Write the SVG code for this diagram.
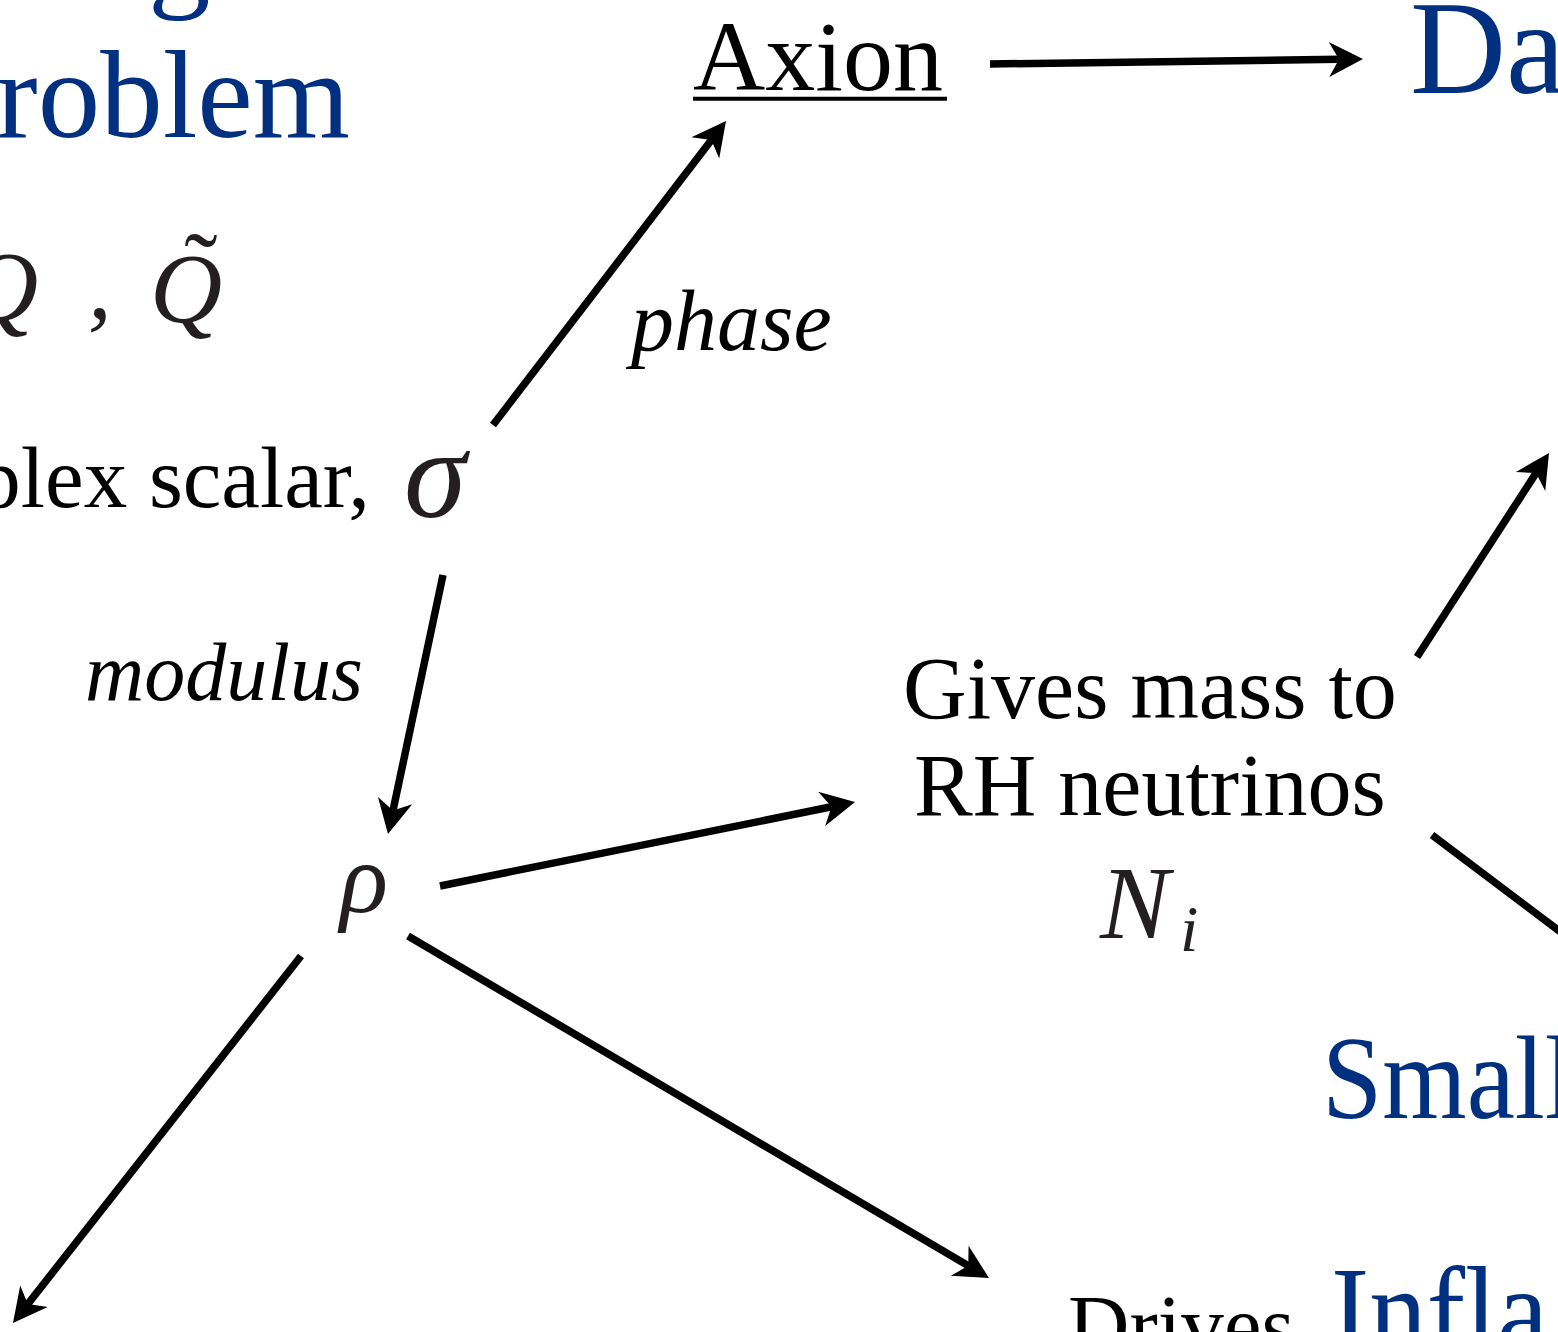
<svg xmlns="http://www.w3.org/2000/svg" width="1558" height="1332" viewBox="0 0 1558 1332">
<style>
text { font-family: "Liberation Serif", "Times New Roman", serif; }
.blue { fill: #00307f; }
.blk { fill: #000000; }
.math { fill: #231f20; font-style: italic; }
.it { font-style: italic; fill: #000000; }
.edge { stroke: #000000; stroke-width: 7.5; fill: none; stroke-linecap: butt; }
.arr { marker-end: url(#ah); }
</style>
<defs>
<marker id="ah" markerUnits="userSpaceOnUse" orient="auto" refX="0" refY="0" markerWidth="60" markerHeight="60" overflow="visible">
<path d="M24,0 L-10,-17.5 L0,0 L-10,17.5 Z" fill="#000000"/>
</marker>
</defs>
<rect x="0" y="0" width="1558" height="1332" fill="#ffffff"/>

<g id="problem-title">
<text class="blue" x="148" y="-6" font-size="125">g</text>
<text class="blue" x="-4" y="137" font-size="125">roblem</text>
</g>

<g id="Q-fields">
<text class="math" x="-34" y="320" font-size="100">Q</text>
<text class="math" x="88" y="318" font-size="95" font-style="normal">,</text>
<text class="math" x="150" y="322" font-size="100">Q<tspan x="201" y="301" text-anchor="middle" font-style="normal">˜</tspan></text>
</g>

<g id="sigma">
<text class="blk" x="370" y="507" font-size="87" text-anchor="end">plex scalar,</text>
<text class="math" x="404" y="517" font-size="126">σ</text>
</g>

<g id="axion">
<text class="blk" x="693" y="90" font-size="100">Axion</text>
<line x1="693" y1="98.7" x2="947" y2="98.7" stroke="#000000" stroke-width="4"/>
</g>

<g id="dark">
<text class="blue" x="1410" y="93" font-size="133">Da</text>
</g>

<g id="rho">
<text class="math" x="340" y="912" font-size="100">ρ</text>
</g>

<g id="neutrinos">
<text class="blk" x="1150" y="718" font-size="88" text-anchor="middle">Gives mass to</text>
<text class="blk" x="1150" y="815" font-size="88" text-anchor="middle">RH neutrinos</text>
<text class="math" x="1100" y="938" font-size="104">N<tspan x="1180" y="951" font-size="66">i</tspan></text>
</g>

<g id="small">
<text class="blue" x="1322" y="1118" font-size="118" textLength="253" lengthAdjust="spacingAndGlyphs">Small</text>
</g>

<g id="inflation">
<text class="blk" x="1068" y="1354" font-size="85">Drives</text>
<text class="blue" x="1331" y="1353" font-size="125" textLength="217" lengthAdjust="spacingAndGlyphs">Infla</text>
</g>

<g id="connectors">
<line class="edge arr" x1="990" y1="64" x2="1339" y2="59.3"/>
<line class="edge arr" x1="493" y1="425" x2="711.4" y2="140"/>
<line class="edge arr" x1="443" y1="575" x2="393" y2="810.5"/>
<line class="edge arr" x1="440" y1="886" x2="831.5" y2="806.8"/>
<line class="edge arr" x1="301" y1="956" x2="27.8" y2="1304.1"/>
<line class="edge arr" x1="408" y1="936" x2="968.3" y2="1265.8"/>
<line class="edge arr" x1="1417" y1="657" x2="1536" y2="473.1"/>
<line class="edge" x1="1432" y1="835" x2="1600" y2="961.7"/>
<text class="it" x="631" y="350" font-size="86">phase</text>
<text class="it" x="85" y="700" font-size="82">modulus</text>
</g>
</svg>
